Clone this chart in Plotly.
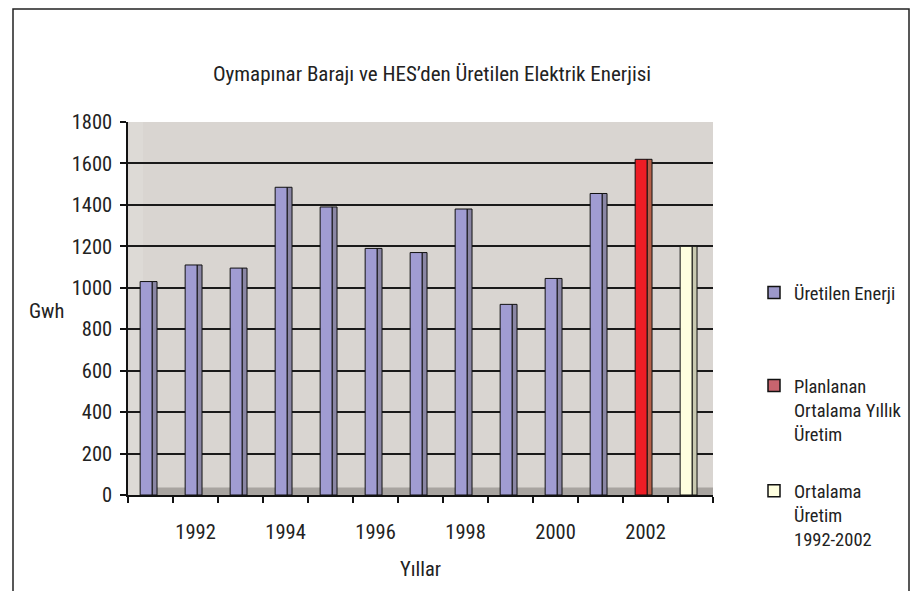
import plotly.graph_objects as go

years_produced = [1991, 1992, 1993, 1994, 1995, 1996, 1997, 1998, 1999, 2000, 2001]
produced = [1030, 1110, 1095, 1485, 1390, 1190, 1170, 1380, 920, 1045, 1455]
planned_year = [2002]
planned = [1620]
avg_year = [2003]
average = [1200]
tick_years = [1992, 1994, 1996, 1998, 2000, 2002]
tick_labels = ["1992", "1994", "1996", "1998", "2000", "2002"]

names = ["Üretilen Enerji", "Planlanan<br>Ortalama Yıllık<br>Üretim", "Ortalama<br>Üretim<br>1992-2002"]
front_colors = ["#A09CD2", "#EE1D25", "#FFFFDF"]
side_colors = ["#8A86A4", "#B5614A", "#C9C9B0"]
legend_colors = ["#9C98CA", "#C8646E", "#FFFFE0"]
legend_ids = ["legend", "legend2", "legend2"]

FONT = "Liberation Sans Narrow, Roboto Condensed, Arial Narrow, sans-serif"
FS = 20.5
LFS = 18.5
TXT = "#222222"

W, H = 916, 583
L, R, T, B = 120, 211, 114, 96
PW = W - L - R
PH = H - T - B


def px_x(sx):
    return (sx - 8 - L) / PW


def px_y(sy):
    return (H - B - (sy - 8)) / PH


def cx(sx):
    return (sx - 8) / W


def cy(sy):
    return 1 - (sy - 8) / H


fig = go.Figure()
series = [(years_produced, produced), (planned_year, planned), (avg_year, average)]
for i, (xs, ys) in enumerate(series):
    fig.add_trace(go.Bar(
        x=xs, y=ys, width=0.11, offset=0.035,
        marker=dict(color=side_colors[i], line=dict(color="#111111", width=1)),
        showlegend=False, hoverinfo="skip"))
    fig.add_trace(go.Bar(
        x=xs, y=ys, width=0.265, offset=-0.23, name=names[i].replace("<br>", " "),
        marker=dict(color=front_colors[i], line=dict(color="#111111", width=1)),
        showlegend=False))
    fig.add_trace(go.Bar(
        x=[None], y=[None], name=names[i], legend=legend_ids[i], legendgroup=f"g{i}",
        marker=dict(color=legend_colors[i], line=dict(color="#111111", width=1.5)),
        showlegend=True, hoverinfo="skip"))

legend_common = dict(xanchor="left", yanchor="top", valign="top",
                     xref="container", yref="container",
                     font=dict(family=FONT, size=LFS, color=TXT),
                     itemwidth=30, bgcolor="rgba(0,0,0,0)")

fig.update_layout(
    width=W, height=H,
    margin=dict(l=L, r=R, t=T, b=B, autoexpand=False),
    paper_bgcolor="white",
    plot_bgcolor="#D9D5D1",
    barmode="overlay",
    font=dict(family=FONT, size=FS, color=TXT),
    title=dict(text="Oymapınar Barajı ve HES’den Üretilen Elektrik Enerjisi",
               x=424 / W, xanchor="center", y=1 - 66 / H, yanchor="middle",
               font=dict(family=FONT, size=21, color=TXT)),
    legend=dict(x=cx(754), y=cy(274), **legend_common),
    legend2=dict(x=cx(754), y=cy(367), tracegroupgap=30, **legend_common),
    showlegend=True,
)

fig.update_xaxes(
    range=[1990.5, 2003.5],
    tickmode="array", tickvals=tick_years, ticktext=tick_labels,
    ticks="", showgrid=False, zeroline=False,
    showline=True, linecolor="#111111", linewidth=1.5,
    ticklabelstandoff=18,
    minor=dict(tick0=1990.5, dtick=1, ticks="outside", ticklen=6,
               tickcolor="#111111", tickwidth=1.5, showgrid=False),
    title=dict(text="Yıllar", standoff=18, font=dict(family=FONT, size=FS)),
)

fig.update_yaxes(
    range=[0, 1800], dtick=200,
    ticks="outside", ticklen=6, tickcolor="#111111", tickwidth=1.5,
    showgrid=True, gridcolor="#1A1A1A", gridwidth=1.5,
    zeroline=False, showline=True, linecolor="#111111", linewidth=1.5,
    ticklabelstandoff=4,
)

fig.add_annotation(text="Gwh", xref="paper", yref="paper", x=px_x(46), y=px_y(311),
                   xanchor="center", yanchor="middle",
                   showarrow=False, font=dict(family=FONT, size=FS, color=TXT))

fig.add_shape(type="rect", xref="paper", yref="paper", x0=0.003, x1=px_x(143), y0=0.0, y1=1.0,
              fillcolor="#DDDAD6", line=dict(width=0), layer="between")

fig.add_shape(type="rect", xref="paper", yref="paper", x0=px_x(143), x1=1.0, y0=0.0, y1=0.02,
              fillcolor="#A8A4A0", line=dict(width=0), layer="between")

fig.add_shape(type="rect", xref="paper", yref="paper",
              x0=px_x(13), x1=px_x(909),
              y0=px_y(640), y1=px_y(9),
              line=dict(color="#222222", width=1.5), fillcolor="rgba(0,0,0,0)")

fig.write_html("out.html")
